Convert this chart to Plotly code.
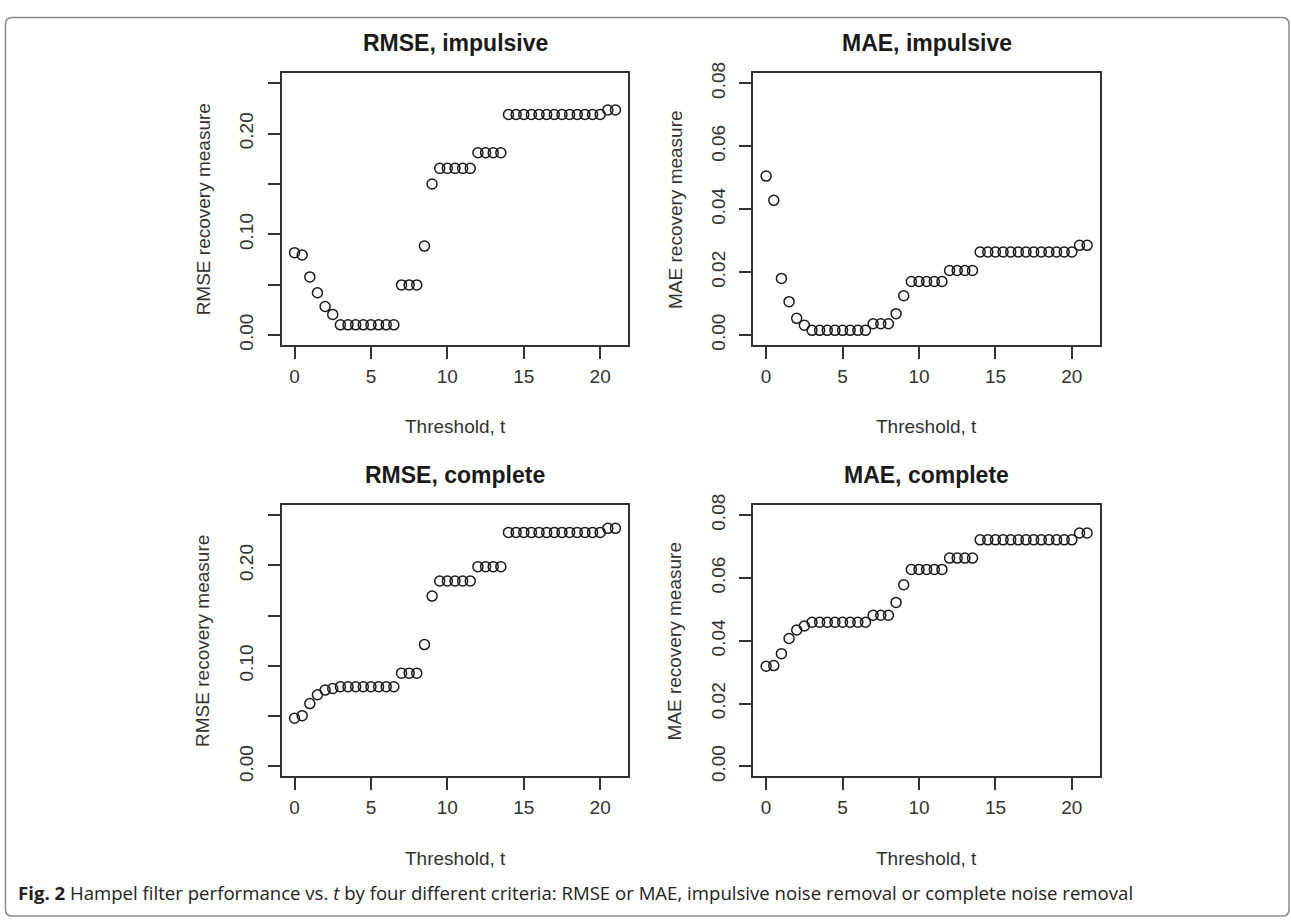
import plotly.graph_objects as go

# ---------------- data ----------------
threshold = [0, 0.5, 1, 1.5, 2, 2.5, 3, 3.5, 4, 4.5, 5, 5.5, 6, 6.5, 7, 7.5, 8, 8.5,
             9, 9.5, 10, 10.5, 11, 11.5, 12, 12.5, 13, 13.5, 14, 14.5, 15, 15.5,
             16, 16.5, 17, 17.5, 18, 18.5, 19, 19.5, 20, 20.5, 21]

rmse_impulsive = [0.0818, 0.0795, 0.0577, 0.0420, 0.0283, 0.0205,
                  0.0101, 0.0101, 0.0101, 0.0101, 0.0101, 0.0101, 0.0101, 0.0101,
                  0.0498, 0.0498, 0.0498, 0.0883, 0.1500,
                  0.1655, 0.1655, 0.1655, 0.1655, 0.1655,
                  0.1810, 0.1810, 0.1810, 0.1810,
                  0.2190, 0.2190, 0.2190, 0.2190, 0.2190, 0.2190, 0.2190,
                  0.2190, 0.2190, 0.2190, 0.2190, 0.2190, 0.2190,
                  0.2235, 0.2235]

mae_impulsive = [0.0505, 0.0428, 0.0180, 0.0106, 0.0053, 0.0031,
                 0.0015, 0.0015, 0.0015, 0.0015, 0.0015, 0.0015, 0.0015, 0.0015,
                 0.0036, 0.0036, 0.0036, 0.0068, 0.0125,
                 0.0170, 0.0170, 0.0170, 0.0170, 0.0170,
                 0.0205, 0.0205, 0.0205, 0.0205,
                 0.0264, 0.0264, 0.0264, 0.0264, 0.0264, 0.0264, 0.0264,
                 0.0264, 0.0264, 0.0264, 0.0264, 0.0264, 0.0264,
                 0.0285, 0.0285]

rmse_complete = [0.0479, 0.0505, 0.0625, 0.0713, 0.0759, 0.0775,
                 0.0792, 0.0792, 0.0792, 0.0792, 0.0792, 0.0792, 0.0792, 0.0792,
                 0.0928, 0.0928, 0.0928, 0.1212, 0.1694,
                 0.1844, 0.1844, 0.1844, 0.1844, 0.1844,
                 0.1987, 0.1987, 0.1987, 0.1987,
                 0.2327, 0.2327, 0.2327, 0.2327, 0.2327, 0.2327, 0.2327,
                 0.2327, 0.2327, 0.2327, 0.2327, 0.2327, 0.2327,
                 0.2368, 0.2368]

mae_complete = [0.0319, 0.0321, 0.0359, 0.0407, 0.0434, 0.0447,
                0.0459, 0.0459, 0.0459, 0.0459, 0.0459, 0.0459, 0.0459, 0.0459,
                0.0481, 0.0481, 0.0481, 0.0522, 0.0578,
                0.0627, 0.0627, 0.0627, 0.0627, 0.0627,
                0.0663, 0.0663, 0.0663, 0.0663,
                0.0721, 0.0721, 0.0721, 0.0721, 0.0721, 0.0721, 0.0721,
                0.0721, 0.0721, 0.0721, 0.0721, 0.0721, 0.0721,
                0.0743, 0.0743]

panel_titles = ["RMSE, impulsive", "MAE, impulsive", "RMSE, complete", "MAE, complete"]
y_titles = ["RMSE recovery measure", "MAE recovery measure",
            "RMSE recovery measure", "MAE recovery measure"]
x_title = "Threshold, t"

x_tickvals = [0, 5, 10, 15, 20]
x_ticktext = ["0", "5", "10", "15", "20"]
rmse_tickvals = [0, 0.05, 0.10, 0.15, 0.20, 0.25]
rmse_ticktext = ["0.00", "", "0.10", "", "0.20", ""]
mae_tickvals = [0, 0.02, 0.04, 0.06, 0.08]
mae_ticktext = ["0.00", "0.02", "0.04", "0.06", "0.08"]

caption_bold = "Fig. 2"
caption_rest = " Hampel filter performance vs. <i>t</i> by four different criteria: RMSE or MAE, impulsive noise removal or complete noise removal"

# ---------------- layout ----------------
W, H = 1291, 923
FONT = "Liberation Sans, Arial, sans-serif"
INK = "#2b2b2b"

def px_x(p):
    return p / W

def px_y(p):
    return 1 - p / H

col_px = [(281.7, 628.3), (753.3, 1100.0)]
row_px = [(63.3, 340.0), (502.7, 779.0)]

series = [rmse_impulsive, mae_impulsive, rmse_complete, mae_complete]
yranges = [[-0.01, 0.26], [-0.0032, 0.0832], [-0.01, 0.26], [-0.0032, 0.0832]]
ytv = [rmse_tickvals, mae_tickvals, rmse_tickvals, mae_tickvals]
ytt = [rmse_ticktext, mae_ticktext, rmse_ticktext, mae_ticktext]

fig = go.Figure()
layout = dict(
    width=W, height=H,
    margin=dict(l=0, r=0, t=0, b=0),
    paper_bgcolor="white", plot_bgcolor="white",
    showlegend=False,
    font=dict(family=FONT, color=INK),
)

annotations = []
shapes = []

axis_common = dict(
    showline=True, mirror=True, linecolor="#333333", linewidth=1.7,
    ticks="outside", ticklen=12, tickwidth=1.6, tickcolor="#333333",
    showgrid=False, zeroline=False,
    tickfont=dict(family=FONT, size=19, color="#333333"),
)

for i in range(4):
    r, c = divmod(i, 2)
    n = "" if i == 0 else str(i + 1)
    xa, ya = "x" + n, "y" + n
    fig.add_trace(go.Scatter(
        x=threshold, y=series[i], mode="markers", xaxis=xa, yaxis=ya,
        marker=dict(symbol="circle-open", size=10, color="#1a1a1a",
                    line=dict(width=1.5, color="#1a1a1a")),
        hoverinfo="x+y",
    ))
    x0, x1 = col_px[c]
    y0, y1 = row_px[r]
    layout["xaxis" + n] = dict(
        axis_common, domain=[px_x(x0), px_x(x1)], range=[-0.84, 21.84],
        anchor=ya, tickvals=x_tickvals, ticktext=x_ticktext,
        ticklabelstandoff=1,
    )
    layout["yaxis" + n] = dict(
        axis_common, domain=[px_y(y1), px_y(y0)], range=yranges[i],
        anchor=xa, tickvals=ytv[i], ticktext=ytt[i], tickangle=-90,
        ticklabelstandoff=7,
    )
    xc = (x0 + x1) / 2
    # panel title
    annotations.append(dict(
        text="<b>" + panel_titles[i] + "</b>", xref="paper", yref="paper",
        x=px_x(xc), y=px_y(y0 - 30.5), xanchor="center", yanchor="middle",
        showarrow=False, font=dict(family=FONT, size=23, color="#1a1a1a"),
    ))
    # x axis title
    annotations.append(dict(
        text=x_title, xref="paper", yref="paper",
        x=px_x(xc), y=px_y(y1 + 83), xanchor="center", yanchor="middle",
        showarrow=False, font=dict(family=FONT, size=19, color="#333333"),
    ))
    # y axis title
    annotations.append(dict(
        text=y_titles[i], xref="paper", yref="paper", textangle=-90,
        x=px_x(x0 - 78.5), y=px_y((y0 + y1) / 2), xanchor="center", yanchor="middle",
        showarrow=False, font=dict(family=FONT, size=19, color="#333333"),
    ))

# caption
annotations.append(dict(
    text="<b>" + caption_bold + "</b>" + caption_rest, xref="paper", yref="paper",
    x=px_x(16), y=px_y(897), xanchor="left", yanchor="middle",
    showarrow=False, font=dict(family="Open Sans, sans-serif", size=18.6, color="#222222"),
))

# outer rounded frame
rad = 7
L, T, R, B = 5.5, 6.5, 1289, 921
def P(x, y):
    return f"{px_x(x):.5f},{px_y(y):.5f}"
path = (f"M {P(L + rad, T)} L {P(R - rad, T)} Q {P(R, T)} {P(R, T + rad)} "
        f"L {P(R, B - rad)} Q {P(R, B)} {P(R - rad, B)} "
        f"L {P(L + rad, B)} Q {P(L, B)} {P(L, B - rad)} "
        f"L {P(L, T + rad)} Q {P(L, T)} {P(L + rad, T)} Z")
shapes.append(dict(type="path", xref="paper", yref="paper", path=path,
                   line=dict(color="#8a8a8a", width=1.5), layer="below"))

layout["annotations"] = annotations
layout["shapes"] = shapes
fig.update_layout(**layout)

fig.write_html("out.html")
